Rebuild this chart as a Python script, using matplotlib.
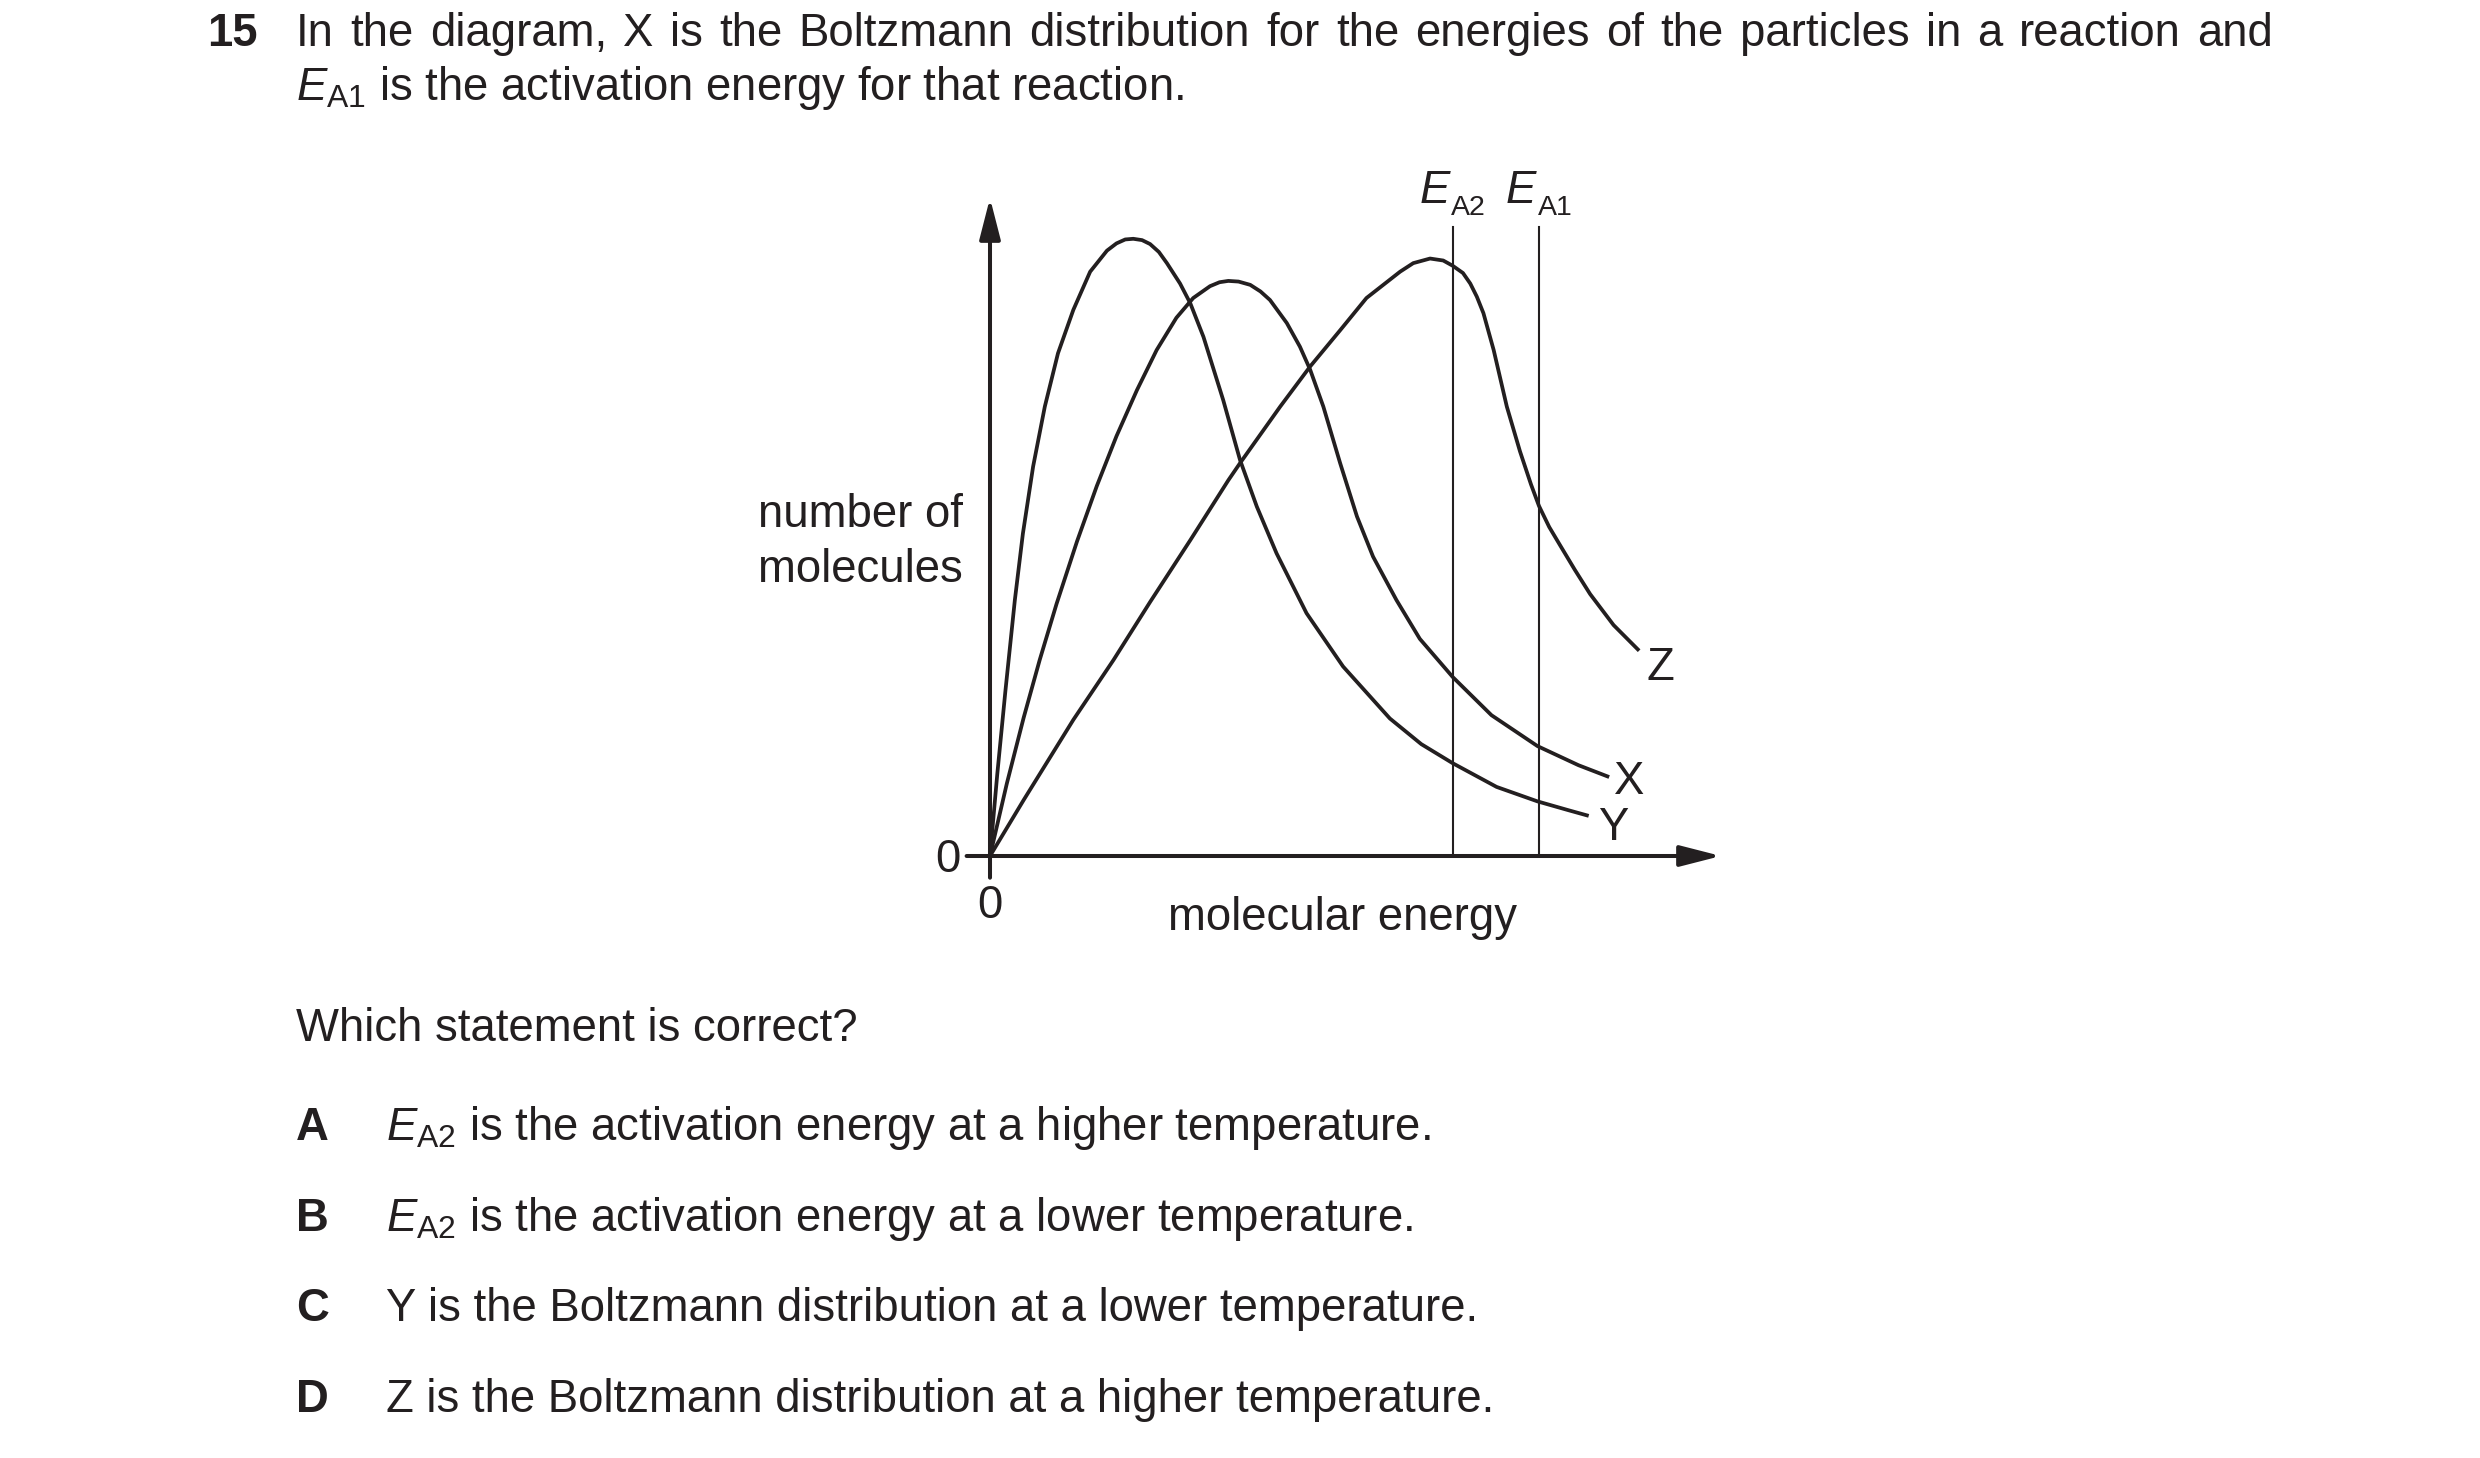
import matplotlib
matplotlib.use('Agg')
import matplotlib.pyplot as plt

plt.rcParams['font.family'] = ['Liberation Sans', 'DejaVu Sans']
plt.rcParams['mathtext.fontset'] = 'custom'
plt.rcParams['mathtext.rm'] = 'Liberation Sans'
plt.rcParams['mathtext.it'] = 'Liberation Sans:italic'
plt.rcParams['mathtext.bf'] = 'Liberation Sans:bold'

# Curves (x: molecular energy, y: number of molecules,
# both in arbitrary units where the axis arrows end at 10)
curve_y_x = [0, 0.10, 0.21, 0.34, 0.45, 0.59, 0.75, 0.93, 1.14, 1.37, 1.60,
             1.73, 1.85, 1.96, 2.08, 2.19, 2.31, 2.42, 2.60, 2.74, 2.92, 3.19,
             3.42, 3.65, 3.92, 4.24, 4.33, 4.83, 5.47, 5.90, 6.33, 6.93, 7.49,
             7.90, 8.19]
curve_y_y = [0, 1.25, 2.50, 3.89, 4.90, 5.92, 6.83, 7.64, 8.30, 8.88, 9.20,
             9.31, 9.37, 9.38, 9.36, 9.30, 9.18, 9.01, 8.70, 8.40, 7.89, 6.93,
             6.02, 5.31, 4.60, 3.89, 3.69, 2.88, 2.09, 1.70, 1.41, 1.05, 0.83,
             0.70, 0.61]

curve_x_x = [0, 0.23, 0.46, 0.68, 0.91, 1.19, 1.46, 1.73, 2.01, 2.28, 2.55,
             2.78, 3.01, 3.14, 3.26, 3.40, 3.56, 3.70, 3.83, 4.06, 4.24, 4.38,
             4.56, 4.79, 5.02, 5.24, 5.56, 5.88, 6.33, 6.86, 7.49, 8.05, 8.47]
curve_x_y = [0, 1.10, 2.10, 2.98, 3.83, 4.78, 5.62, 6.38, 7.08, 7.69, 8.18,
             8.48, 8.66, 8.72, 8.74, 8.73, 8.68, 8.58, 8.45, 8.10, 7.74, 7.39,
             6.83, 5.97, 5.16, 4.55, 3.89, 3.30, 2.72, 2.14, 1.67, 1.38, 1.20]

curve_z_x = [0, 0.46, 1.14, 1.69, 2.19, 2.74, 3.26, 3.42, 3.97, 4.38, 4.79,
             5.15, 5.61, 5.79, 6.02, 6.20, 6.33, 6.47, 6.57, 6.66, 6.75, 6.89,
             7.07, 7.25, 7.40, 7.51, 7.65, 7.80, 8.00, 8.21, 8.53, 8.88]
curve_z_y = [0, 0.85, 2.07, 2.98, 3.86, 4.80, 5.71, 5.97, 6.83, 7.44, 7.99,
             8.48, 8.88, 9.01, 9.08, 9.05, 8.97, 8.86, 8.70, 8.50, 8.25, 7.69,
             6.83, 6.15, 5.65, 5.32, 5.00, 4.72, 4.35, 3.98, 3.51, 3.12]

curve_names = ['Y', 'X', 'Z']
ea_names = ['A2', 'A1']
ea_x = [6.33, 7.51]

question_lines = [
    'In the diagram, X is the Boltzmann distribution for the energies of the particles in a reaction and',
    r'$E_{\mathrm{A1}}$ is the activation energy for that reaction.',
]
option_letters = ['A', 'B', 'C', 'D']
option_texts = [
    r'$E_{\mathrm{A2}}$ is the activation energy at a higher temperature.',
    r'$E_{\mathrm{A2}}$ is the activation energy at a lower temperature.',
    'Y is the Boltzmann distribution at a lower temperature.',
    'Z is the Boltzmann distribution at a higher temperature.',
]

INK = '#231f20'
W, H = 2480, 1458
FS = 32.8


def fx(px):
    return px / W


def fy(py):
    return 1 - py / H


def justified(fig, text, left, right, base):
    """Spread the words of one line evenly between left and right (px)."""
    renderer = fig.canvas.get_renderer()
    words = text.split(' ')
    items = [fig.text(0, fy(base), w, fontsize=FS, color=INK, va='baseline')
             for w in words]
    widths = [t.get_window_extent(renderer).width for t in items]
    gap = (right - left - sum(widths)) / (len(words) - 1)
    x = left
    for t, w in zip(items, widths):
        t.set_x(fx(x))
        x += w + gap


fig = plt.figure(figsize=(W / 100, H / 100), dpi=100)
fig.patch.set_facecolor('white')

# question text
fig.text(fx(207), fy(46), '15', fontsize=FS, fontweight='bold', color=INK,
         va='baseline')
justified(fig, question_lines[0], 296, 2273, 46)
fig.text(fx(296), fy(100), question_lines[1], fontsize=FS, color=INK,
         va='baseline')

fig.text(fx(296), fy(1041), 'Which statement is correct?', fontsize=FS,
         color=INK, va='baseline')
for i, (letter, text) in enumerate(zip(option_letters, option_texts)):
    base = 1140 + 90.6 * i
    fig.text(fx(296), fy(base), letter, fontsize=FS, fontweight='bold',
             color=INK, va='baseline')
    fig.text(fx(386), fy(base), text, fontsize=FS, color=INK, va='baseline')

# diagram axes: origin at (990, 856) px, arrow tips at 10 units
ax = fig.add_axes([fx(990), fy(856), 731 / W, 658 / H])
ax.set_xlim(0, 10)
ax.set_ylim(0, 10)
ax.axis('off')

arrow = dict(arrowstyle='-|>,head_length=1.25,head_width=0.32',
             mutation_scale=20, lw=2.9, color=INK, shrinkA=0, shrinkB=0)
ax.annotate('', xy=(10, 0), xytext=(-0.32, 0), arrowprops=arrow,
            annotation_clip=False)
ax.annotate('', xy=(0, 10), xytext=(0, -0.33), arrowprops=arrow,
            annotation_clip=False)

for xs, ys in [(curve_y_x, curve_y_y), (curve_x_x, curve_x_y),
               (curve_z_x, curve_z_y)]:
    ax.plot(xs, ys, color=INK, lw=2.7, clip_on=False,
            solid_joinstyle='round', solid_capstyle='butt')

for name, x in zip(ea_names, ea_x):
    ax.plot([x, x], [0, 9.56], color=INK, lw=1.5, clip_on=False)
    ax.text(x - 0.04, 9.92, 'E', fontsize=FS, style='italic', color=INK,
            ha='right', va='baseline')
    ax.text(x - 0.02, 9.74, name, fontsize=20.5, color=INK,
            ha='left', va='baseline')

# curve labels
label_pos = {'Y': (8.52, 0.24), 'X': (8.75, 0.94), 'Z': (9.17, 2.67)}
for name in curve_names:
    lx, ly = label_pos[name]
    ax.text(lx, ly, name, fontsize=FS, color=INK, ha='center', va='baseline')

ax.text(-0.41, -0.24, '0', fontsize=FS, color=INK, ha='right', va='baseline')
ax.text(0, -0.94, '0', fontsize=FS, color=INK, ha='center', va='baseline')
ax.text(-0.37, 5.0, 'number of', fontsize=FS, color=INK, ha='right',
        va='baseline')
ax.text(-0.37, 4.16, 'molecules', fontsize=FS, color=INK, ha='right',
        va='baseline')
ax.text(2.44, -1.12, 'molecular energy', fontsize=FS, color=INK, ha='left',
        va='baseline')

fig.savefig('out.png', dpi=100)
